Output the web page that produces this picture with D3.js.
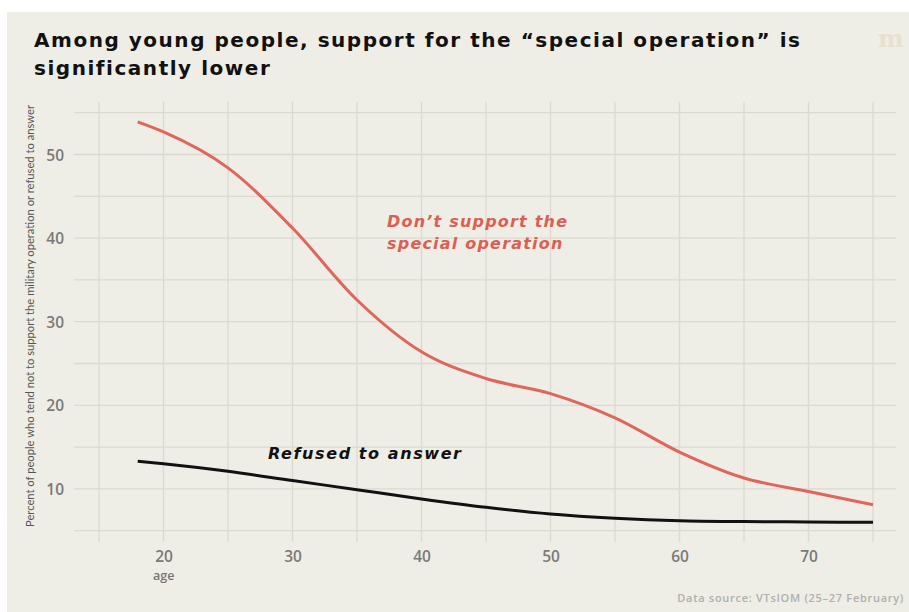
<!DOCTYPE html>
<html>
<head>
<meta charset="utf-8">
<script src="https://cdn.jsdelivr.net/npm/d3@7"></script>
<style>
  html, body { margin: 0; padding: 0; background: #ffffff; }
  svg { display: block; }
</style>
</head>
<body>
<svg id="chart" width="909" height="612"></svg>
<script>
// Age points (years) and share of respondents (%)
const ages = [18, 20, 25, 30, 35, 40, 45, 50, 55, 60, 65, 70, 75];
const dontSupport = [53.9, 52.7, 48.4, 41.2, 32.6, 26.4, 23.2, 21.4, 18.5, 14.4, 11.3, 9.7, 8.1];
const refused = [13.3, 13.0, 12.1, 11.0, 9.9, 8.8, 7.8, 7.0, 6.5, 6.2, 6.1, 6.05, 6.0];

const xTicks = [20, 30, 40, 50, 60, 70];
const yTicks = [10, 20, 30, 40, 50];
const xGrid = d3.range(15, 76, 5);
const yGrid = d3.range(5, 56, 5);

const svg = d3.select("#chart");
const W = 909, H = 612;
const SANS = "'Open Sans', sans-serif";
const WIDE = "'DejaVu Sans', sans-serif";

// Scale a text's font size (up to a cap) then spread letters to span the width
function fit(sel, width, maxSize) {
  const node = sel.node();
  let fs = parseFloat(sel.attr("font-size"));
  const w0 = node.getComputedTextLength();
  fs = Math.min(maxSize, fs * width / w0);
  sel.attr("font-size", fs.toFixed(2));
  const w = node.getComputedTextLength();
  const ls = (width - w) / Math.max(1, sel.text().length - 1);
  sel.attr("letter-spacing", ls.toFixed(3));
  return { fs, ls };
}

// Panel background
svg.append("rect").attr("x", 7).attr("y", 12).attr("width", W - 7).attr("height", H - 12)
  .attr("fill", "#eeede6");

const x = d3.scaleLinear().domain([15, 75]).range([99, 873]);
const y = d3.scaleLinear().domain([5, 55]).range([530.7, 112.7]);

const grid = svg.append("g").attr("stroke", "#dcd9d1").attr("stroke-width", 1.3);
grid.selectAll("line.v").data(xGrid).join("line").attr("class", "v")
  .attr("x1", d => x(d)).attr("x2", d => x(d)).attr("y1", 102).attr("y2", 542);
grid.selectAll("line.h").data(yGrid).join("line").attr("class", "h")
  .attr("x1", 74).attr("x2", 896).attr("y1", d => y(d)).attr("y2", d => y(d));

// Axes built with d3 axis generators, then styled
const xAxis = svg.append("g").attr("transform", "translate(0,562)")
  .call(d3.axisBottom(x).tickValues(xTicks).tickSize(0).tickPadding(0));
const yAxis = svg.append("g").attr("transform", "translate(64,0)")
  .call(d3.axisLeft(y).tickValues(yTicks).tickSize(0).tickPadding(0));
[xAxis, yAxis].forEach(g => {
  g.select(".domain").remove();
  g.selectAll("text").attr("fill", "#7a7a78").attr("font-family", SANS)
    .attr("font-size", 15.5).attr("font-weight", 600);
});
xAxis.selectAll("text").attr("dy", 0);
yAxis.selectAll("text").attr("dy", "0.36em");

svg.append("text").attr("x", 153).attr("y", 580)
  .attr("font-family", SANS).attr("font-size", 12.5).attr("font-weight", 600).attr("fill", "#767674")
  .text("age");

svg.append("text")
  .attr("transform", "translate(34,316) rotate(-90)")
  .attr("text-anchor", "middle")
  .attr("font-family", "Lato, sans-serif").attr("font-size", 11.2).attr("fill", "#555")
  .text("Percent of people who tend not to support the military operation or refused to answer");

// Lines
const line = d3.line().x(d => x(d[0])).y(d => y(d[1])).curve(d3.curveMonotoneX);
svg.append("path").datum(ages.map((a, i) => [a, dontSupport[i]]))
  .attr("d", line).attr("fill", "none").attr("stroke", "#e0655a").attr("stroke-width", 3);
svg.append("path").datum(ages.map((a, i) => [a, refused[i]]))
  .attr("d", line).attr("fill", "none").attr("stroke", "#111").attr("stroke-width", 3);

// Series labels
const lab = svg.append("g").attr("font-family", WIDE)
  .attr("font-style", "italic").attr("font-weight", 700).attr("font-size", 16);
const l1 = lab.append("text").attr("x", 387).attr("y", 227).attr("fill", "#dd5e52").text("Don’t support the");
const f1 = fit(l1, 180, 17);
lab.append("text").attr("x", 387).attr("y", 249).attr("fill", "#dd5e52")
  .attr("font-size", f1.fs.toFixed(2)).attr("letter-spacing", f1.ls.toFixed(3)).text("special operation");
const l3 = lab.append("text").attr("x", 268).attr("y", 459).attr("fill", "#111").text("Refused to answer");
fit(l3, 193, 17);

// Title
const title = svg.append("g").attr("font-family", WIDE)
  .attr("font-weight", 700).attr("font-size", 20).attr("fill", "#111");
const t1 = title.append("text").attr("x", 34).attr("y", 47)
  .text("Among young people, support for the “special operation” is");
const ft = fit(t1, 766, 21.5);
title.append("text").attr("x", 34).attr("y", 75)
  .attr("font-size", ft.fs.toFixed(2)).attr("letter-spacing", ft.ls.toFixed(3))
  .text("significantly lower");

// Logo mark
svg.append("text").attr("x", 891).attr("y", 47).attr("text-anchor", "middle")
  .attr("font-family", "'DejaVu Serif', serif").attr("font-weight", 700).attr("font-size", 24)
  .attr("fill", "#e9dfcf").text("m");

// Source
const src = svg.append("text").attr("x", 904).attr("y", 602).attr("text-anchor", "end")
  .attr("font-family", SANS).attr("font-size", 10.5).attr("font-weight", 600).attr("fill", "#b0b0ad")
  .text("Data source: VTsIOM (25–27 February)");
fit(src, 226, 11);
</script>
</body>
</html>
